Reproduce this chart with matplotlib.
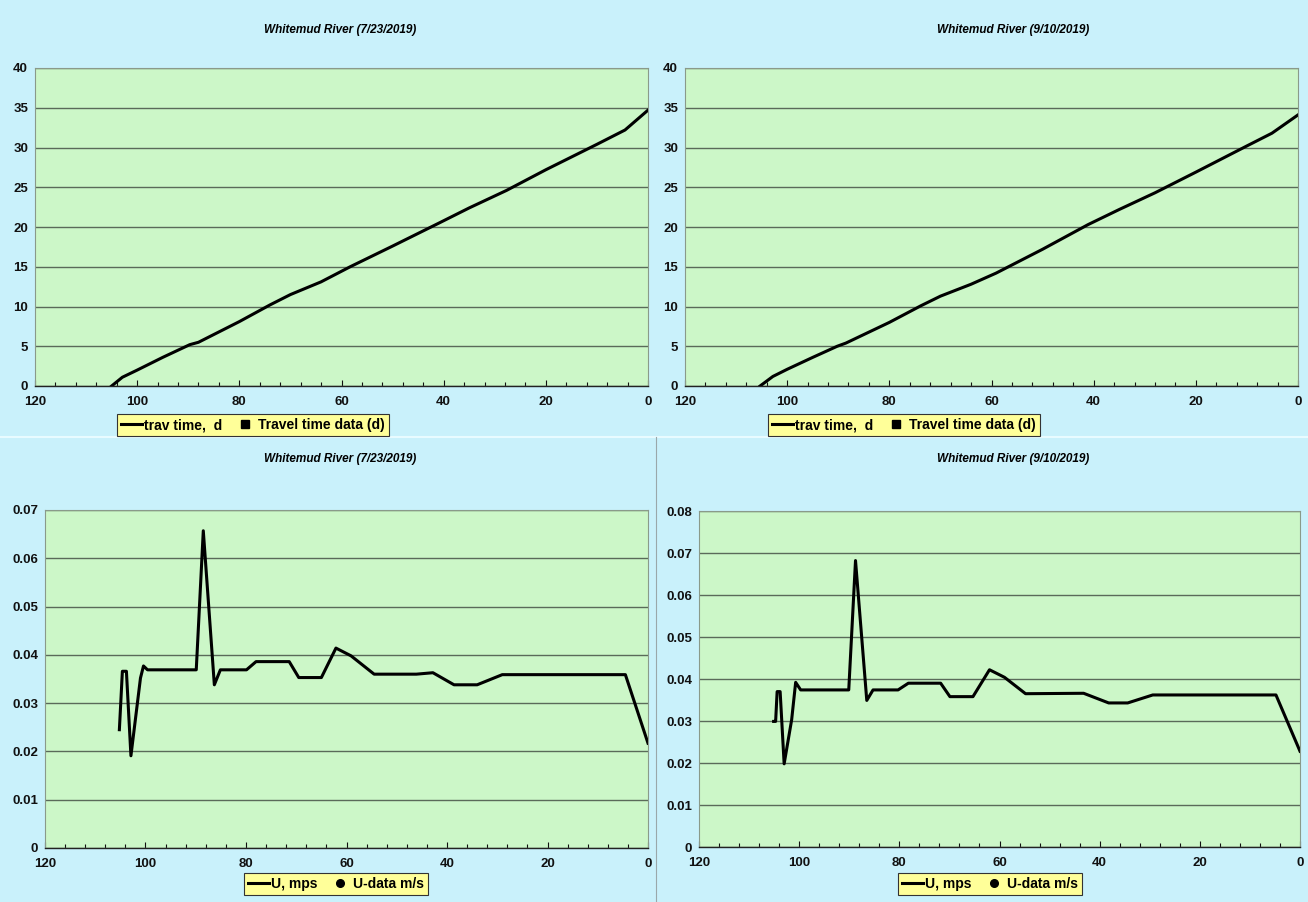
import matplotlib
matplotlib.use("Agg")
import matplotlib.pyplot as plt
from matplotlib.lines import Line2D
from matplotlib.ticker import MultipleLocator

# ---------------- data ----------------
titles = ["Whitemud River (7/23/2019)", "Whitemud River (9/10/2019)"]

# travel time (d) vs distance (km)
tt1_x = [105.0, 102.9, 100.0, 95.0, 89.7, 88.0, 80.0, 74.0, 70.0, 64.0, 58.3, 50.0, 40.9, 35.0, 27.7, 20.0, 10.0, 4.5, 0.0]
tt1_y = [0.0, 1.1, 2.0, 3.6, 5.2, 5.5, 8.1, 10.2, 11.5, 13.1, 15.0, 17.6, 20.5, 22.4, 24.6, 27.2, 30.4, 32.2, 34.7]
tt2_x = [105.3, 102.8, 100.0, 95.0, 90.2, 88.5, 80.0, 73.8, 70.0, 64.0, 59.1, 50.0, 41.1, 35.0, 28.0, 20.0, 10.0, 5.1, 0.0]
tt2_y = [0.0, 1.2, 2.1, 3.6, 5.0, 5.4, 8.0, 10.1, 11.3, 12.8, 14.2, 17.2, 20.3, 22.2, 24.3, 26.9, 30.2, 31.8, 34.1]

# velocity (m/s) vs distance (km)
u1_x = [105.2, 104.6, 103.8, 102.9, 101.0, 100.4, 99.6, 89.9, 88.5, 86.3, 85.1, 79.9, 78.0, 71.4, 69.5, 65.0, 62.1, 59.1, 54.5, 46.1, 42.8, 38.6, 34.0, 29.0, 4.5, 0.0]
u1_y = [0.0245, 0.0366, 0.0366, 0.0191, 0.0352, 0.0377, 0.0369, 0.0369, 0.0657, 0.0338, 0.0369, 0.0369, 0.0386, 0.0386, 0.0353, 0.0353, 0.0414, 0.0398, 0.0360, 0.0360, 0.0363, 0.0338, 0.0338, 0.0359, 0.0359, 0.0217]
u2_x = [105.1, 104.7, 104.4, 103.8, 103.0, 101.5, 100.7, 99.7, 90.1, 88.75, 86.5, 85.25, 80.25, 78.2, 71.75, 69.9, 65.3, 62.0, 59.0, 54.8, 43.2, 38.2, 34.4, 29.4, 4.8, 0.0]
u2_y = [0.0299, 0.0299, 0.0370, 0.0370, 0.0198, 0.0303, 0.0392, 0.0374, 0.0374, 0.0682, 0.0349, 0.0374, 0.0374, 0.0390, 0.0390, 0.0358, 0.0358, 0.0422, 0.0404, 0.0365, 0.0366, 0.0343, 0.0343, 0.0362, 0.0362, 0.0228]

tt_labels = ["trav time,  d", "Travel time data (d)"]
u_labels = ["U, mps", "U-data m/s"]

# ---------------- style ----------------
BG = "#c9f1fb"
PLOT = "#ccf7c8"
LEG = "#ffff99"
GRID = "#5a6a5a"
plt.rcParams["font.family"] = ["Liberation Sans", "DejaVu Sans"]
plt.rcParams["font.weight"] = "bold"

W, H = 1308, 902
fig = plt.figure(figsize=(W / 100, H / 100), dpi=100, facecolor=BG)


def rect(x0, y0, x1, y1):
    return [x0 / W, 1 - y1 / H, (x1 - x0) / W, (y1 - y0) / H]


def style_ax(ax, ymax, ystep, yfmt):
    ax.set_facecolor(PLOT)
    ax.set_xlim(120, 0)
    ax.set_ylim(0, ymax)
    ax.xaxis.set_major_locator(MultipleLocator(20))
    ax.xaxis.set_minor_locator(MultipleLocator(4))
    ax.yaxis.set_major_locator(MultipleLocator(ystep))
    ax.yaxis.set_major_formatter(yfmt)
    ax.grid(axis="y", color=GRID, linewidth=1.0)
    ax.set_axisbelow(True)
    for s in ["top", "right", "left"]:
        ax.spines[s].set_color("#8a9a8a")
        ax.spines[s].set_linewidth(0.8)
    ax.spines["bottom"].set_color("#222222")
    ax.spines["bottom"].set_linewidth(1.0)
    ax.tick_params(axis="x", which="both", direction="in", length=4, width=0.8,
                   labelsize=9.5, pad=7, colors="#111111")
    ax.tick_params(axis="x", which="minor", length=3)
    ax.tick_params(axis="y", length=0, labelsize=9.5, pad=5, colors="#111111")
    for lbl in ax.get_xticklabels() + ax.get_yticklabels():
        lbl.set_fontweight("bold")


def add_legend(cx, cy, labels, marker):
    h1 = Line2D([], [], color="black", linewidth=2.2)
    h2 = Line2D([], [], color="black", linestyle="none", marker=marker, markersize=5.5)
    leg = fig.legend([h1, h2], labels, loc="center",
                     bbox_to_anchor=(cx / W, 1 - cy / H), ncol=2,
                     frameon=True, fancybox=False, facecolor=LEG, edgecolor="#333333",
                     prop={"weight": "bold", "size": 10}, handlelength=1.5,
                     handletextpad=0.15, columnspacing=0.9, borderpad=0.3)
    leg.get_frame().set_linewidth(0.8)
    leg.get_frame().set_alpha(1)


fmt_int = lambda v, p: f"{v:.0f}"
fmt_u = lambda v, p: "0" if abs(v) < 1e-12 else f"{v:.2f}"

# top-left
ax1 = fig.add_axes(rect(35, 68, 648, 386))
ax1.plot(tt1_x, tt1_y, color="black", linewidth=2.2)
style_ax(ax1, 40, 5, fmt_int)
fig.text(340 / W, 1 - 30 / H, titles[0], ha="center", va="center",
         fontsize=8.5, fontweight="bold", style="italic")
add_legend(253, 425, tt_labels, "s")

# top-right
ax2 = fig.add_axes(rect(685, 68, 1298, 386))
ax2.plot(tt2_x, tt2_y, color="black", linewidth=2.2)
style_ax(ax2, 40, 5, fmt_int)
fig.text(1013 / W, 1 - 30 / H, titles[1], ha="center", va="center",
         fontsize=8.5, fontweight="bold", style="italic")
add_legend(904, 425, tt_labels, "s")

# bottom-left
ax3 = fig.add_axes(rect(45, 510, 648, 848))
ax3.plot(u1_x, u1_y, color="black", linewidth=2.2)
style_ax(ax3, 0.07, 0.01, fmt_u)
fig.text(340 / W, 1 - 459 / H, titles[0], ha="center", va="center",
         fontsize=8.5, fontweight="bold", style="italic")
add_legend(336, 884, u_labels, "o")

# bottom-right
ax4 = fig.add_axes(rect(699, 511, 1300, 847))
ax4.plot(u2_x, u2_y, color="black", linewidth=2.2)
style_ax(ax4, 0.08, 0.01, fmt_u)
fig.text(1013 / W, 1 - 459 / H, titles[1], ha="center", va="center",
         fontsize=8.5, fontweight="bold", style="italic")
add_legend(990, 884, u_labels, "o")

# panel separators
fig.add_artist(Line2D([0, 1], [1 - 437 / H, 1 - 437 / H], color="#e8fbff", linewidth=1.5))
fig.add_artist(Line2D([656 / W, 656 / W], [0, 1 - 437 / H], color="#9aa8aa", linewidth=0.8))

fig.savefig("out.png", dpi=100, facecolor=BG)
